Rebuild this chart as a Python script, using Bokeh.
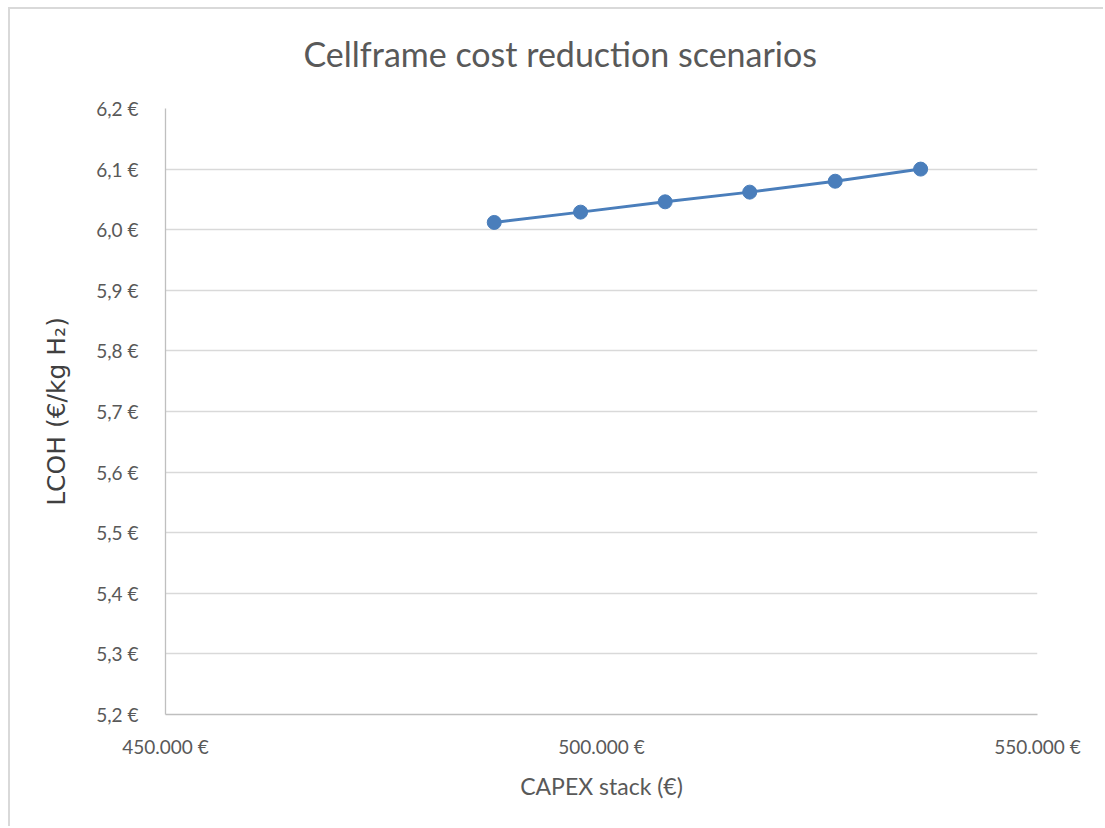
from bokeh.plotting import figure
from bokeh.models import Range1d, FixedTicker, ColumnDataSource, Title
from bokeh.embed import file_html
from bokeh.resources import INLINE

# Stack CAPEX (EUR) versus levelised cost of hydrogen (EUR/kg H2)
capex_stack = [487700, 497600, 507300, 517000, 526800, 536600]
lcoh = [6.012, 6.029, 6.046, 6.062, 6.080, 6.100]

x_ticks = [450000, 500000, 550000]
x_tick_labels = ["450.000 €", "500.000 €", "550.000 €"]
y_ticks = [5.2, 5.3, 5.4, 5.5, 5.6, 5.7, 5.8, 5.9, 6.0, 6.1, 6.2]
y_tick_labels = ["5,2 €", "5,3 €", "5,4 €", "5,5 €", "5,6 €", "5,7 €",
                 "5,8 €", "5,9 €", "6,0 €", "6,1 €", "6,2 €"]
chart_title = "Cellframe cost reduction scenarios"

FONT = "Lato"
TEXT = "#595959"
SERIES = "#4a7ebb"

src = ColumnDataSource(data=dict(x=capex_stack, y=lcoh))

p = figure(
    width=1095, height=819,
    x_range=Range1d(450000, 550000),
    y_range=Range1d(5.2, 6.2),
    output_backend="svg",
    toolbar_location=None,
    min_border_left=155, min_border_right=68,
    min_border_top=99, min_border_bottom=114,
    title=None,
)
p.styles = {
    "margin-left": "8px", "margin-top": "7px",
    "border-left": "2px solid #d9d9d9", "border-top": "2px solid #d9d9d9",
}

# thin spacer next to the frame lifts the title a little higher
p.add_layout(Title(text=" ", text_font_size="1px", standoff=10), "above")

# title is centred over the whole chart area rather than the plot frame
p.add_layout(Title(
    text=chart_title, align="left", offset=138, standoff=43,
    text_font=FONT, text_font_size="34px", text_font_style="normal",
    text_color=TEXT,
), "above")

p.outline_line_color = None
p.background_fill_color = "white"
p.border_fill_color = "white"

p.xgrid.grid_line_color = None
p.ygrid.grid_line_color = "#d9d9d9"
p.ygrid.grid_line_width = 1.3

p.xaxis.ticker = FixedTicker(ticks=x_ticks)
p.xaxis.major_label_overrides = dict(zip(x_ticks, x_tick_labels))
p.yaxis.ticker = FixedTicker(ticks=y_ticks)
p.yaxis.major_label_overrides = dict(zip(y_ticks, y_tick_labels))

for ax in (p.xaxis, p.yaxis):
    ax.axis_line_color = "#bfbfbf"
    ax.axis_line_width = 1.3
    ax.major_tick_line_color = None
    ax.minor_tick_line_color = None
    ax.major_tick_out = 0
    ax.major_tick_in = 0
    ax.major_label_text_font = FONT
    ax.major_label_text_font_size = "19px"
    ax.major_label_text_color = TEXT
    ax.axis_label_text_font_style = "normal"

p.xaxis.major_label_standoff = 20
p.yaxis.major_label_standoff = 27

p.xaxis.axis_label = "CAPEX stack (€)"
p.xaxis.axis_label_text_font = FONT
p.xaxis.axis_label_text_font_size = "23px"
p.xaxis.axis_label_text_color = TEXT
p.xaxis.axis_label_standoff = 11

p.yaxis.axis_label = "LCOH (€/kg H₂)"
p.yaxis.axis_label_text_font = "DejaVu Sans"
p.yaxis.axis_label_text_font_size = "25px"
p.yaxis.axis_label_text_color = "#404040"
p.yaxis.axis_label_standoff = 22

p.line("x", "y", source=src, line_color=SERIES, line_width=3)
p.scatter("x", "y", source=src, size=14, fill_color=SERIES, line_color=SERIES)

open("out.html", "w").write(file_html(p, INLINE))
